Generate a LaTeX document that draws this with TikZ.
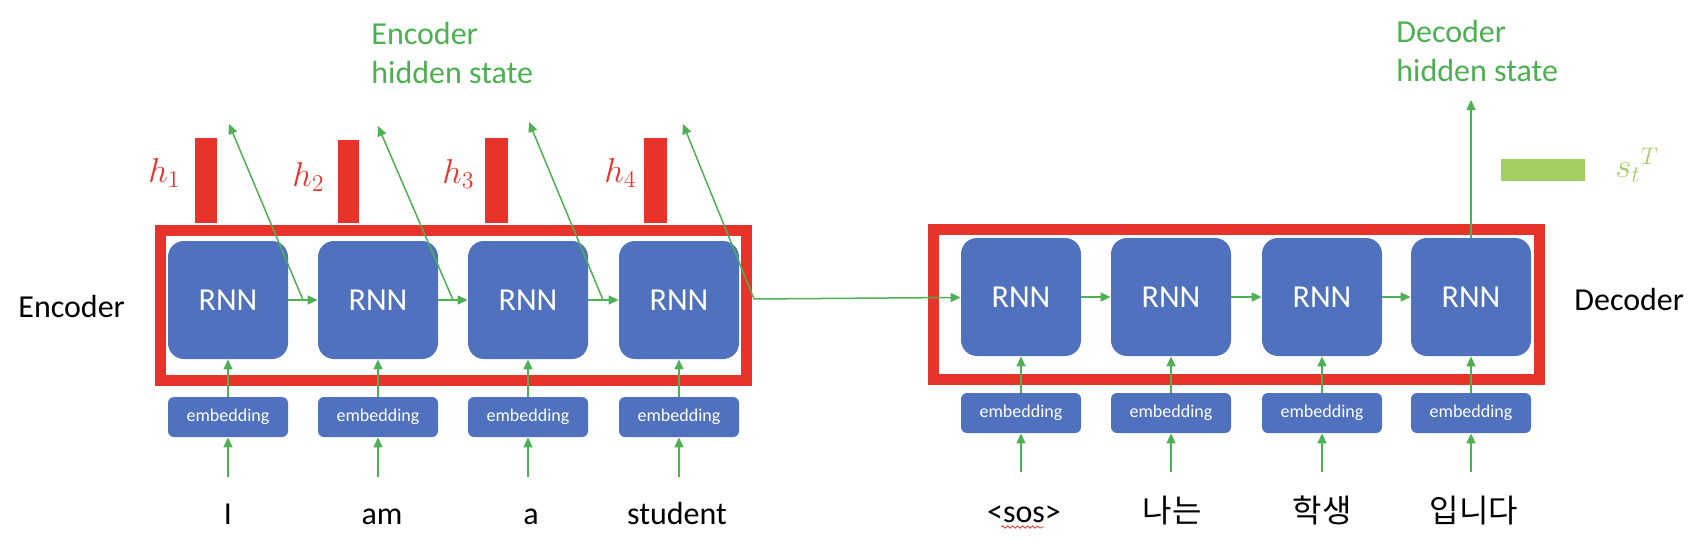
\documentclass[tikz,border=0pt]{standalone}
\usepackage{fontspec}
\setmainfont{Carlito}
\newfontfamily\kr{Noto Sans CJK KR}
\usetikzlibrary{arrows.meta,decorations.pathmorphing}
\definecolor{rnnblue}{HTML}{4F71BE}
\definecolor{framered}{HTML}{E8332A}
\definecolor{arrgreen}{HTML}{4DB052}
\definecolor{labgreen}{HTML}{4CAF50}
\definecolor{bargreen}{HTML}{A2CE62}
\begin{document}
\begin{tikzpicture}[x=0.5pt,y=-0.5pt,
  rnn/.style={fill=rnnblue,rounded corners=8pt,minimum width=60pt,minimum height=59pt,inner sep=0pt,text=white,font=\fontsize{16}{19}\selectfont},
  emb/.style={fill=rnnblue,rounded corners=3pt,minimum width=60pt,minimum height=20pt,inner sep=0pt,text=white,font=\fontsize{9}{11}\selectfont},
  word/.style={anchor=base,inner sep=0pt,font=\fontsize{16}{19}\selectfont},
  arr/.style={draw=arrgreen,line width=0.75pt,-{Triangle[length=5pt,width=4.5pt]}},
  frame/.style={draw=framered,line width=5.5pt},
  hlab/.style={anchor=base west,inner sep=0pt,text=framered,font=\fontsize{18}{21}\selectfont},
  lab/.style={anchor=base west,inner sep=0pt,font=\fontsize{16}{19}\selectfont}]
\useasboundingbox (0,0) rectangle (1698,552);

\draw[frame] (160.5,230.5) rectangle (746.5,380.5);
\draw[frame] (933.5,229.5) rectangle (1539.5,379.5);

\fill[framered] (195,138) rectangle (217,223);
\fill[framered] (338,140) rectangle (359,223);
\fill[framered] (485,138) rectangle (508,223);
\fill[framered] (644,138) rectangle (667,223);
\node[hlab] (h1) at (148,182) {$h_1$};
\node[hlab] (h2) at (292,186) {$h_2$};
\node[hlab] (h3) at (442,183) {$h_3$};
\node[hlab] (h4) at (604,182) {$h_4$};

\node[rnn] (e1) at (228,300) {RNN};
\node[rnn] (e2) at (378,300) {RNN};
\node[rnn] (e3) at (528,300) {RNN};
\node[rnn] (e4) at (679,300) {RNN};
\node[rnn] (d1) at (1021,297) {RNN};
\node[rnn] (d2) at (1171,297) {RNN};
\node[rnn] (d3) at (1322,297) {RNN};
\node[rnn] (d4) at (1471,297) {RNN};

\node[emb] (x1) at (228,417) {embedding};
\node[emb] (x2) at (378,417) {embedding};
\node[emb] (x3) at (528,417) {embedding};
\node[emb] (x4) at (679,417) {embedding};
\node[emb] (y1) at (1021,413) {embedding};
\node[emb] (y2) at (1171,413) {embedding};
\node[emb] (y3) at (1322,413) {embedding};
\node[emb] (y4) at (1471,413) {embedding};

\node[word] (w1) at (228,524) {I};
\node[word] (w2) at (382,524) {am};
\node[word] (w3) at (531,524) {a};
\node[word] (w4) at (677,524) {student};
\node[word] (v1) at (1024,522) {<sos>};
\node[word] (v2) at (1172,522) {\kr 나는};
\node[word] (v3) at (1322,522) {\kr 학생};
\node[word] (v4) at (1474,522) {\kr 입니다};
\draw[framered,line width=0.4pt,decorate,decoration={snake,amplitude=0.6pt,segment length=2.5pt}] (1001,527) -- (1044,527);

\coordinate (i1) at (228,477);
\coordinate (i2) at (378,477);
\coordinate (i3) at (528,477);
\coordinate (i4) at (679,477);
\coordinate (j1) at (1021,472);
\coordinate (j2) at (1171,472);
\coordinate (j3) at (1322,472);
\coordinate (j4) at (1471,472);
\draw[arr] (i1) -- (x1);
\draw[arr] (i2) -- (x2);
\draw[arr] (i3) -- (x3);
\draw[arr] (i4) -- (x4);
\draw[arr] (j1) -- (y1);
\draw[arr] (j2) -- (y2);
\draw[arr] (j3) -- (y3);
\draw[arr] (j4) -- (y4);
\draw[arr] (x1) -- (e1);
\draw[arr] (x2) -- (e2);
\draw[arr] (x3) -- (e3);
\draw[arr] (x4) -- (e4);
\draw[arr] (y1) -- (d1);
\draw[arr] (y2) -- (d2);
\draw[arr] (y3) -- (d3);
\draw[arr] (y4) -- (d4);

\draw[arr] (e1) -- (e2);
\draw[arr] (e2) -- (e3);
\draw[arr] (e3) -- (e4);
\draw[arr] (d1) -- (d2);
\draw[arr] (d2) -- (d3);
\draw[arr] (d3) -- (d4);

\coordinate (m1) at (303,300);
\coordinate (m2) at (453,300);
\coordinate (m3) at (603,300);
\coordinate (m4) at (754,299);
\coordinate (t1) at (229,124);
\coordinate (t2) at (378,126);
\coordinate (t3) at (529,122);
\coordinate (t4) at (683,124);
\draw[arr] (m1) -- (t1);
\draw[arr] (m2) -- (t2);
\draw[arr] (m3) -- (t3);
\draw[arr] (m4) -- (t4);
\draw[arr] (m4) -- (d1);

\coordinate (u4) at (1471,100);
\draw[arr] (d4) -- (u4);

\node[anchor=north west,inner sep=0pt,align=left,text=labgreen,font=\fontsize{16}{19.5}\selectfont] (ehs) at (371,22) {Encoder\\hidden state};
\node[anchor=north west,inner sep=0pt,align=left,text=labgreen,font=\fontsize{16}{19.5}\selectfont] (dhs) at (1396,20) {Decoder\\hidden state};
\node[lab] (enc) at (18,317) {Encoder};
\node[lab] (dec) at (1574,310) {Decoder};

\fill[bargreen] (1501,159) rectangle (1585,181);
\node[lab,text=bargreen,font=\fontsize{18}{21}\selectfont] (st) at (1615,177) {${s_t}^T$};
\end{tikzpicture}
\end{document}
